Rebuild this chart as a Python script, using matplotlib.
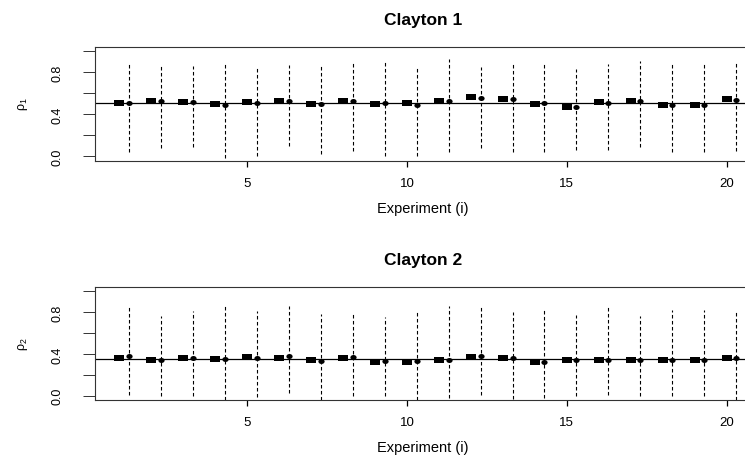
import matplotlib
matplotlib.use("Agg")
import matplotlib.pyplot as plt
import numpy as np
from matplotlib.path import Path

plt.rcParams['font.family'] = ['Liberation Sans', 'DejaVu Sans']
plt.rcParams['mathtext.fontset'] = 'custom'
plt.rcParams['mathtext.rm'] = 'Liberation Sans'
plt.rcParams['mathtext.it'] = 'Liberation Sans'

experiments = list(range(1, 21))

# Clayton 1
est1_sq = [0.503, 0.529, 0.516, 0.493, 0.519, 0.529, 0.493, 0.529, 0.493, 0.503,
           0.522, 0.560, 0.541, 0.497, 0.471, 0.516, 0.522, 0.484, 0.484, 0.548]
est1_ci = [0.503, 0.522, 0.516, 0.490, 0.509, 0.522, 0.493, 0.529, 0.503, 0.490,
           0.529, 0.554, 0.541, 0.503, 0.471, 0.503, 0.529, 0.484, 0.490, 0.535]
low1 = [0.038, 0.083, 0.089, -0.013, 0.006, 0.096, 0.025, 0.051, 0.006, 0.006,
        0.044, 0.076, 0.044, 0.044, 0.063, 0.063, 0.089, 0.038, 0.038, 0.054]
up1 = [0.892, 0.854, 0.860, 0.892, 0.854, 0.866, 0.860, 0.886, 0.892, 0.854,
       0.924, 0.847, 0.886, 0.886, 0.828, 0.880, 0.904, 0.880, 0.880, 0.898]
true1 = 0.51

# Clayton 2
est2_sq = [0.363, 0.344, 0.363, 0.350, 0.370, 0.363, 0.344, 0.363, 0.325, 0.325,
           0.344, 0.370, 0.363, 0.319, 0.338, 0.344, 0.338, 0.338, 0.338, 0.363]
est2_ci = [0.382, 0.344, 0.357, 0.350, 0.363, 0.376, 0.331, 0.370, 0.331, 0.331,
           0.344, 0.382, 0.363, 0.325, 0.344, 0.344, 0.344, 0.344, 0.344, 0.363]
low2 = [0.007, 0.0, 0.0, -0.038, -0.012, 0.026, -0.038, 0.0, 0.0, -0.038,
        -0.025, 0.007, -0.032, -0.025, 0.0, 0.007, 0.0, 0.0, 0.0, -0.04]
up2 = [0.847, 0.758, 0.809, 0.873, 0.809, 0.860, 0.783, 0.802, 0.752, 0.822,
       0.860, 0.847, 0.802, 0.816, 0.771, 0.847, 0.758, 0.816, 0.816, 0.796]
true2 = 0.35

titles = ["Clayton 1", "Clayton 2"]
ylabels = [r"$\rho_1$", r"$\rho_2$"]
xticks = [5, 10, 15, 20]
yticks = [0.0, 0.2, 0.4, 0.6, 0.8, 1.0]
ytick_labels = ["0.0", "", "0.4", "", "0.8", ""]

rect_marker = Path([(-1, -0.66), (1, -0.66), (1, 0.66), (-1, 0.66), (-1, -0.66)],
                   [Path.MOVETO, Path.LINETO, Path.LINETO, Path.LINETO, Path.CLOSEPOLY])
uc = Path.unit_circle()
ell_marker = Path(uc.vertices * np.array([1.0, 0.8]), uc.codes)

W, H = 745, 456
fig = plt.figure(figsize=(W / 100, H / 100), dpi=100)

# axes boxes in pixel coords: (left, top, right, bottom)
boxes = [(95, 47.7, 751, 161.5), (95, 287.8, 751, 400.9)]
panels = [(est1_sq, est1_ci, low1, up1, true1), (est2_sq, est2_ci, low2, up2, true2)]

x = np.array(experiments, dtype=float)
off = 0.3
for k, (box, data) in enumerate(zip(boxes, panels)):
    l, t, r, b = box
    ax = fig.add_axes([l / W, 1 - b / H, (r - l) / W, (b - t) / H])
    sq, ci, lo, hi, tv = data
    ax.vlines(x + off, lo, hi, colors='black', linestyles=(0, (3.2, 2.2)), lw=0.8)
    ax.axhline(tv, color='black', lw=0.9)
    ax.plot(x, sq, linestyle='none', marker=rect_marker, markersize=6.8,
            color='black', markeredgewidth=0)
    ax.plot(x + off, ci, linestyle='none', marker=ell_marker, markersize=4.5,
            color='black', markeredgewidth=0)
    ax.set_xlim(0.24, 20.76)
    ax.set_ylim(-0.04, 1.04)
    ax.set_xticks(xticks)
    ax.set_xticklabels([str(v) for v in xticks], fontsize=9.5)
    ax.set_yticks(yticks)
    ax.set_yticklabels(ytick_labels, fontsize=9, rotation=90, va='center')
    ax.tick_params(axis='y', length=8.6, width=0.7, pad=14, color='#333333')
    ax.tick_params(axis='x', length=4.6, width=0.9, pad=7)
    for s in ax.spines.values():
        s.set_linewidth(0.8)
        s.set_color('#333333')
    ax.set_xlabel("Experiment (i)", fontsize=10.5)
    ax.xaxis.set_label_coords(0.5, -0.415)
    ax.xaxis.label.set_va('center')
    ax.set_ylabel(ylabels[k], fontsize=9, rotation=90)
    ax.yaxis.set_label_coords(-0.11, 0.5)
    ax.yaxis.label.set_va('center')
    ax.text(0.5, 1.24, titles[k], transform=ax.transAxes, ha='center', va='center',
            fontsize=12.5, fontweight='bold')

fig.savefig("out.png", dpi=100, facecolor='white')
